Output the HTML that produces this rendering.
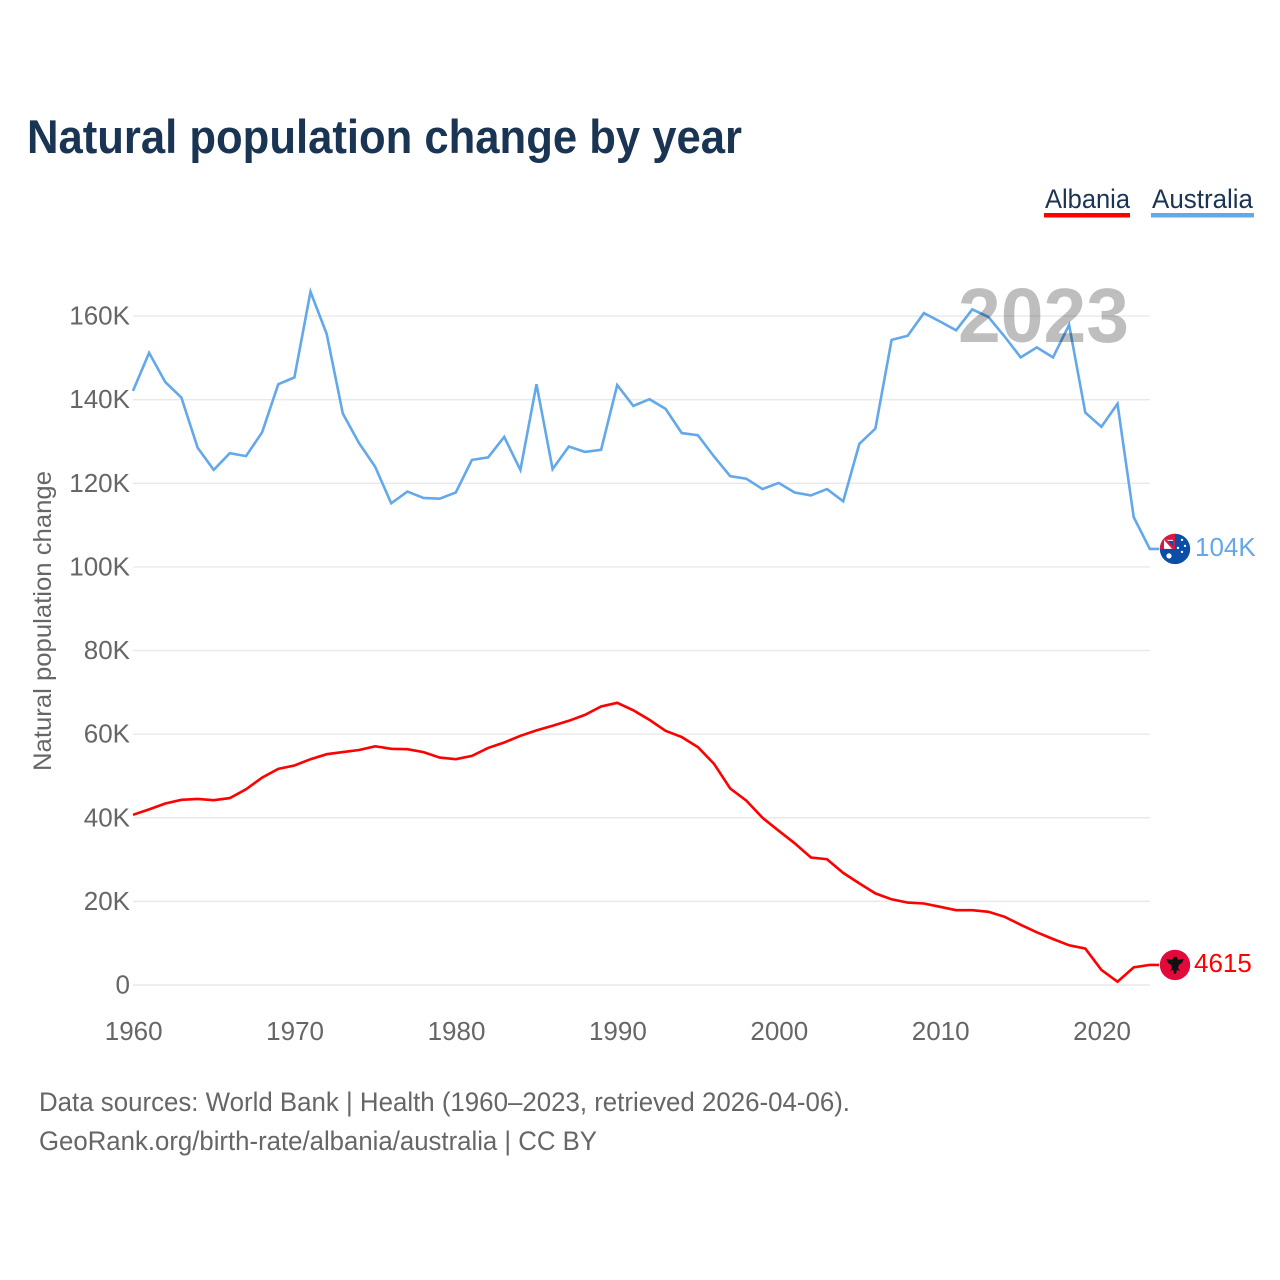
<!DOCTYPE html>
<html lang="en">
<head>
<meta charset="utf-8">
<title>Natural population change by year</title>
<style>
  html, body { margin: 0; padding: 0; background: #fff; }
  svg { display: block; font-family: "Liberation Sans", sans-serif; }
</style>
</head>
<body>
<svg id="chart" xmlns="http://www.w3.org/2000/svg" width="1280" height="1280" viewBox="0 0 1280 1280">
  <defs>
    <clipPath id="flag-clip"><circle cx="0" cy="0" r="15.2"></circle></clipPath>
  </defs>
  <rect width="1280" height="1280" fill="#fff"></rect>
  <text x="27" y="153" font-size="47" font-weight="700" fill="#1a3453" textLength="715" lengthAdjust="spacingAndGlyphs">Natural population change by year</text>

  <g>
    <text x="1045" y="208" font-size="27" fill="#1a3453" textLength="85" lengthAdjust="spacingAndGlyphs">Albania</text>
    <rect x="1044" y="213" width="86" height="4.5" fill="#ff0000"></rect>
  </g>
  <g>
    <text x="1152" y="208" font-size="27" fill="#1a3453" textLength="101" lengthAdjust="spacingAndGlyphs">Australia</text>
    <rect x="1151" y="213" width="103" height="4.5" fill="#62a8ea"></rect>
  </g>

  <g id="grid"></g>
  <g id="y-axis"></g>
  <g id="x-axis"></g>
  <g id="series"></g>

  <text x="1129" y="342" text-anchor="end" font-size="77" font-weight="700" fill="#000" opacity="0.25" textLength="171" lengthAdjust="spacingAndGlyphs">2023</text>

  <text transform="translate(51,621) rotate(-90)" text-anchor="middle" font-size="25" fill="#666" textLength="300" lengthAdjust="spacingAndGlyphs">Natural population change</text>

  <g id="flag-australia">
    <g clip-path="url(#flag-clip)">
      <rect x="-16" y="-16" width="32" height="32" fill="#0a4ea8"></rect>
      <rect x="-16" y="-16" width="16" height="16" fill="#e0173c"></rect>
      <polygon points="-11,-9 -2,-9 -2,0 -11,0" fill="#fff"></polygon>
      <polygon points="-8,-8 -2,-8 -2,-2" fill="#0a4ea8"></polygon>
      <polygon points="-11,-9 -8,-9 0,0 -3,0" fill="#e0173c"></polygon>
      <circle cx="-6" cy="7" r="2.6" fill="#fff"></circle>
      <circle cx="7" cy="-9" r="1.2" fill="#fff"></circle>
      <circle cx="3" cy="-1" r="1.2" fill="#fff"></circle>
      <circle cx="10" cy="-3" r="1.2" fill="#fff"></circle>
      <circle cx="7" cy="3" r="1.2" fill="#fff"></circle>
    </g>
  </g>
  <g id="flag-albania">
    <circle r="15.2" fill="#e30a3b"></circle>
    <polygon fill="#111" points="-9,-6 -3,-5 -1,-8 2,-8 3,-5 9,-6 7,-2 4,0 3,3 5,6 2,5 1,9 -1,9 -2,5 -5,6 -3,3 -4,0 -7,-2"></polygon>
  </g>

  <text id="label-australia" x="1195" font-size="26" fill="#62a8ea"></text>
  <text id="label-albania" x="1194" font-size="26" fill="#ff0000"></text>

  <text x="39" y="1111" font-size="27" fill="#666" textLength="811" lengthAdjust="spacingAndGlyphs">Data sources: World Bank | Health (1960–2023, retrieved 2026-04-06).</text>
  <text x="39" y="1150" font-size="27" fill="#666" textLength="558" lengthAdjust="spacingAndGlyphs">GeoRank.org/birth-rate/albania/australia | CC BY</text>
</svg>
<script>
const firstYear = 1960;
const xTicks = [1960, 1970, 1980, 1990, 2000, 2010, 2020];
const yTicks = [0, 20, 40, 60, 80, 100, 120, 140, 160];
const australiaValues = [142.1,151.2,144.2,140.5,128.5,123.2,127.2,126.5,132.2,143.7,145.3,165.8,155.7,136.7,129.6,124.0,115.2,118.0,116.5,116.3,117.8,125.6,126.2,131.1,123.2,143.7,123.4,128.8,127.5,128.0,143.5,138.5,140.1,137.8,132.0,131.5,126.4,121.7,121.1,118.6,120.1,117.8,117.1,118.6,115.7,129.4,133.1,154.3,155.3,160.7,158.7,156.6,161.6,159.8,155.1,150.1,152.5,150.1,157.9,136.9,133.5,139.0,111.9,104.3];
const albaniaValues = [40.7,42.0,43.4,44.3,44.5,44.2,44.7,46.8,49.6,51.7,52.5,54.0,55.2,55.7,56.2,57.1,56.5,56.4,55.7,54.4,54.0,54.8,56.7,58.0,59.6,60.9,62.0,63.2,64.6,66.6,67.5,65.7,63.4,60.8,59.3,56.9,52.9,47.0,44.1,40.0,36.9,33.9,30.5,30.1,26.8,24.3,21.9,20.5,19.7,19.5,18.7,17.9,17.9,17.5,16.3,14.4,12.6,11.0,9.5,8.7,3.6,0.8,4.2,4.8];
const endLabelAustralia = "104K";
const endLabelAlbania = "4615";

const NS = "http://www.w3.org/2000/svg";
const xScale = function (year) { return 133 + (year - firstYear) * 16.14; };
const yScale = function (v) { return 985 - v * 4.181; };
const plotRight = 1150;
const tickLabel = function (v) { return v === 0 ? "0" : v + "K"; };

function make(tag, parent) {
  const el = document.createElementNS(NS, tag);
  parent.appendChild(el);
  return el;
}

const grid = document.getElementById("grid");
const yAxis = document.getElementById("y-axis");
const xAxis = document.getElementById("x-axis");
const series = document.getElementById("series");

yTicks.forEach(function (t) {
  const line = make("line", grid);
  
  
  line.setAttribute("x1", xScale(firstYear));
  line.setAttribute("x2", plotRight);
  line.setAttribute("y1", yScale(t));
  line.setAttribute("y2", yScale(t));
  line.setAttribute("stroke", "#e9e9e9");
  line.setAttribute("stroke-width", "1.4");

  const label = make("text", yAxis);
  
  
  label.setAttribute("x", 130);
  label.setAttribute("y", yScale(t) + 8.5);
  label.setAttribute("text-anchor", "end");
  label.setAttribute("font-size", "26");
  label.setAttribute("fill", "#666");
  label.textContent = tickLabel(t);
});

xTicks.forEach(function (t) {
  const label = make("text", xAxis);
  
  
  label.setAttribute("x", xScale(t) + 0.7);
  label.setAttribute("y", 1040);
  label.setAttribute("text-anchor", "middle");
  label.setAttribute("font-size", "26");
  label.setAttribute("fill", "#666");
  label.textContent = String(t);
});

function pointsFor(values) {
  return values.map(function (v, i) {
    return xScale(firstYear + i).toFixed(1) + "," + yScale(v).toFixed(1);
  });
}

const lineAlbania = make("polyline", series);


const albaniaLast = albaniaValues[albaniaValues.length - 1];
lineAlbania.setAttribute("points", pointsFor(albaniaValues).concat([(plotRight + 9) + "," + yScale(albaniaLast).toFixed(1)]).join(" "));
lineAlbania.setAttribute("fill", "none");
lineAlbania.setAttribute("stroke", "#ff0000");
lineAlbania.setAttribute("stroke-width", "2.6");
lineAlbania.setAttribute("stroke-linejoin", "miter");

const lineAustralia = make("polyline", series);


const australiaLast = australiaValues[australiaValues.length - 1];
lineAustralia.setAttribute("points", pointsFor(australiaValues).concat([(plotRight + 9) + "," + yScale(australiaLast).toFixed(1)]).join(" "));
lineAustralia.setAttribute("fill", "none");
lineAustralia.setAttribute("stroke", "#62a8ea");
lineAustralia.setAttribute("stroke-width", "2.6");
lineAustralia.setAttribute("stroke-linejoin", "miter");

document.getElementById("flag-australia").setAttribute("transform", "translate(1175," + yScale(australiaLast).toFixed(1) + ")");
document.getElementById("flag-albania").setAttribute("transform", "translate(1175," + yScale(albaniaLast).toFixed(1) + ")");

const labelAustralia = document.getElementById("label-australia");
labelAustralia.setAttribute("y", yScale(australiaLast) + 7);
labelAustralia.textContent = endLabelAustralia;
const labelAlbania = document.getElementById("label-albania");
labelAlbania.setAttribute("y", yScale(albaniaLast) + 7);
labelAlbania.textContent = endLabelAlbania;
</script>
</body>
</html>
